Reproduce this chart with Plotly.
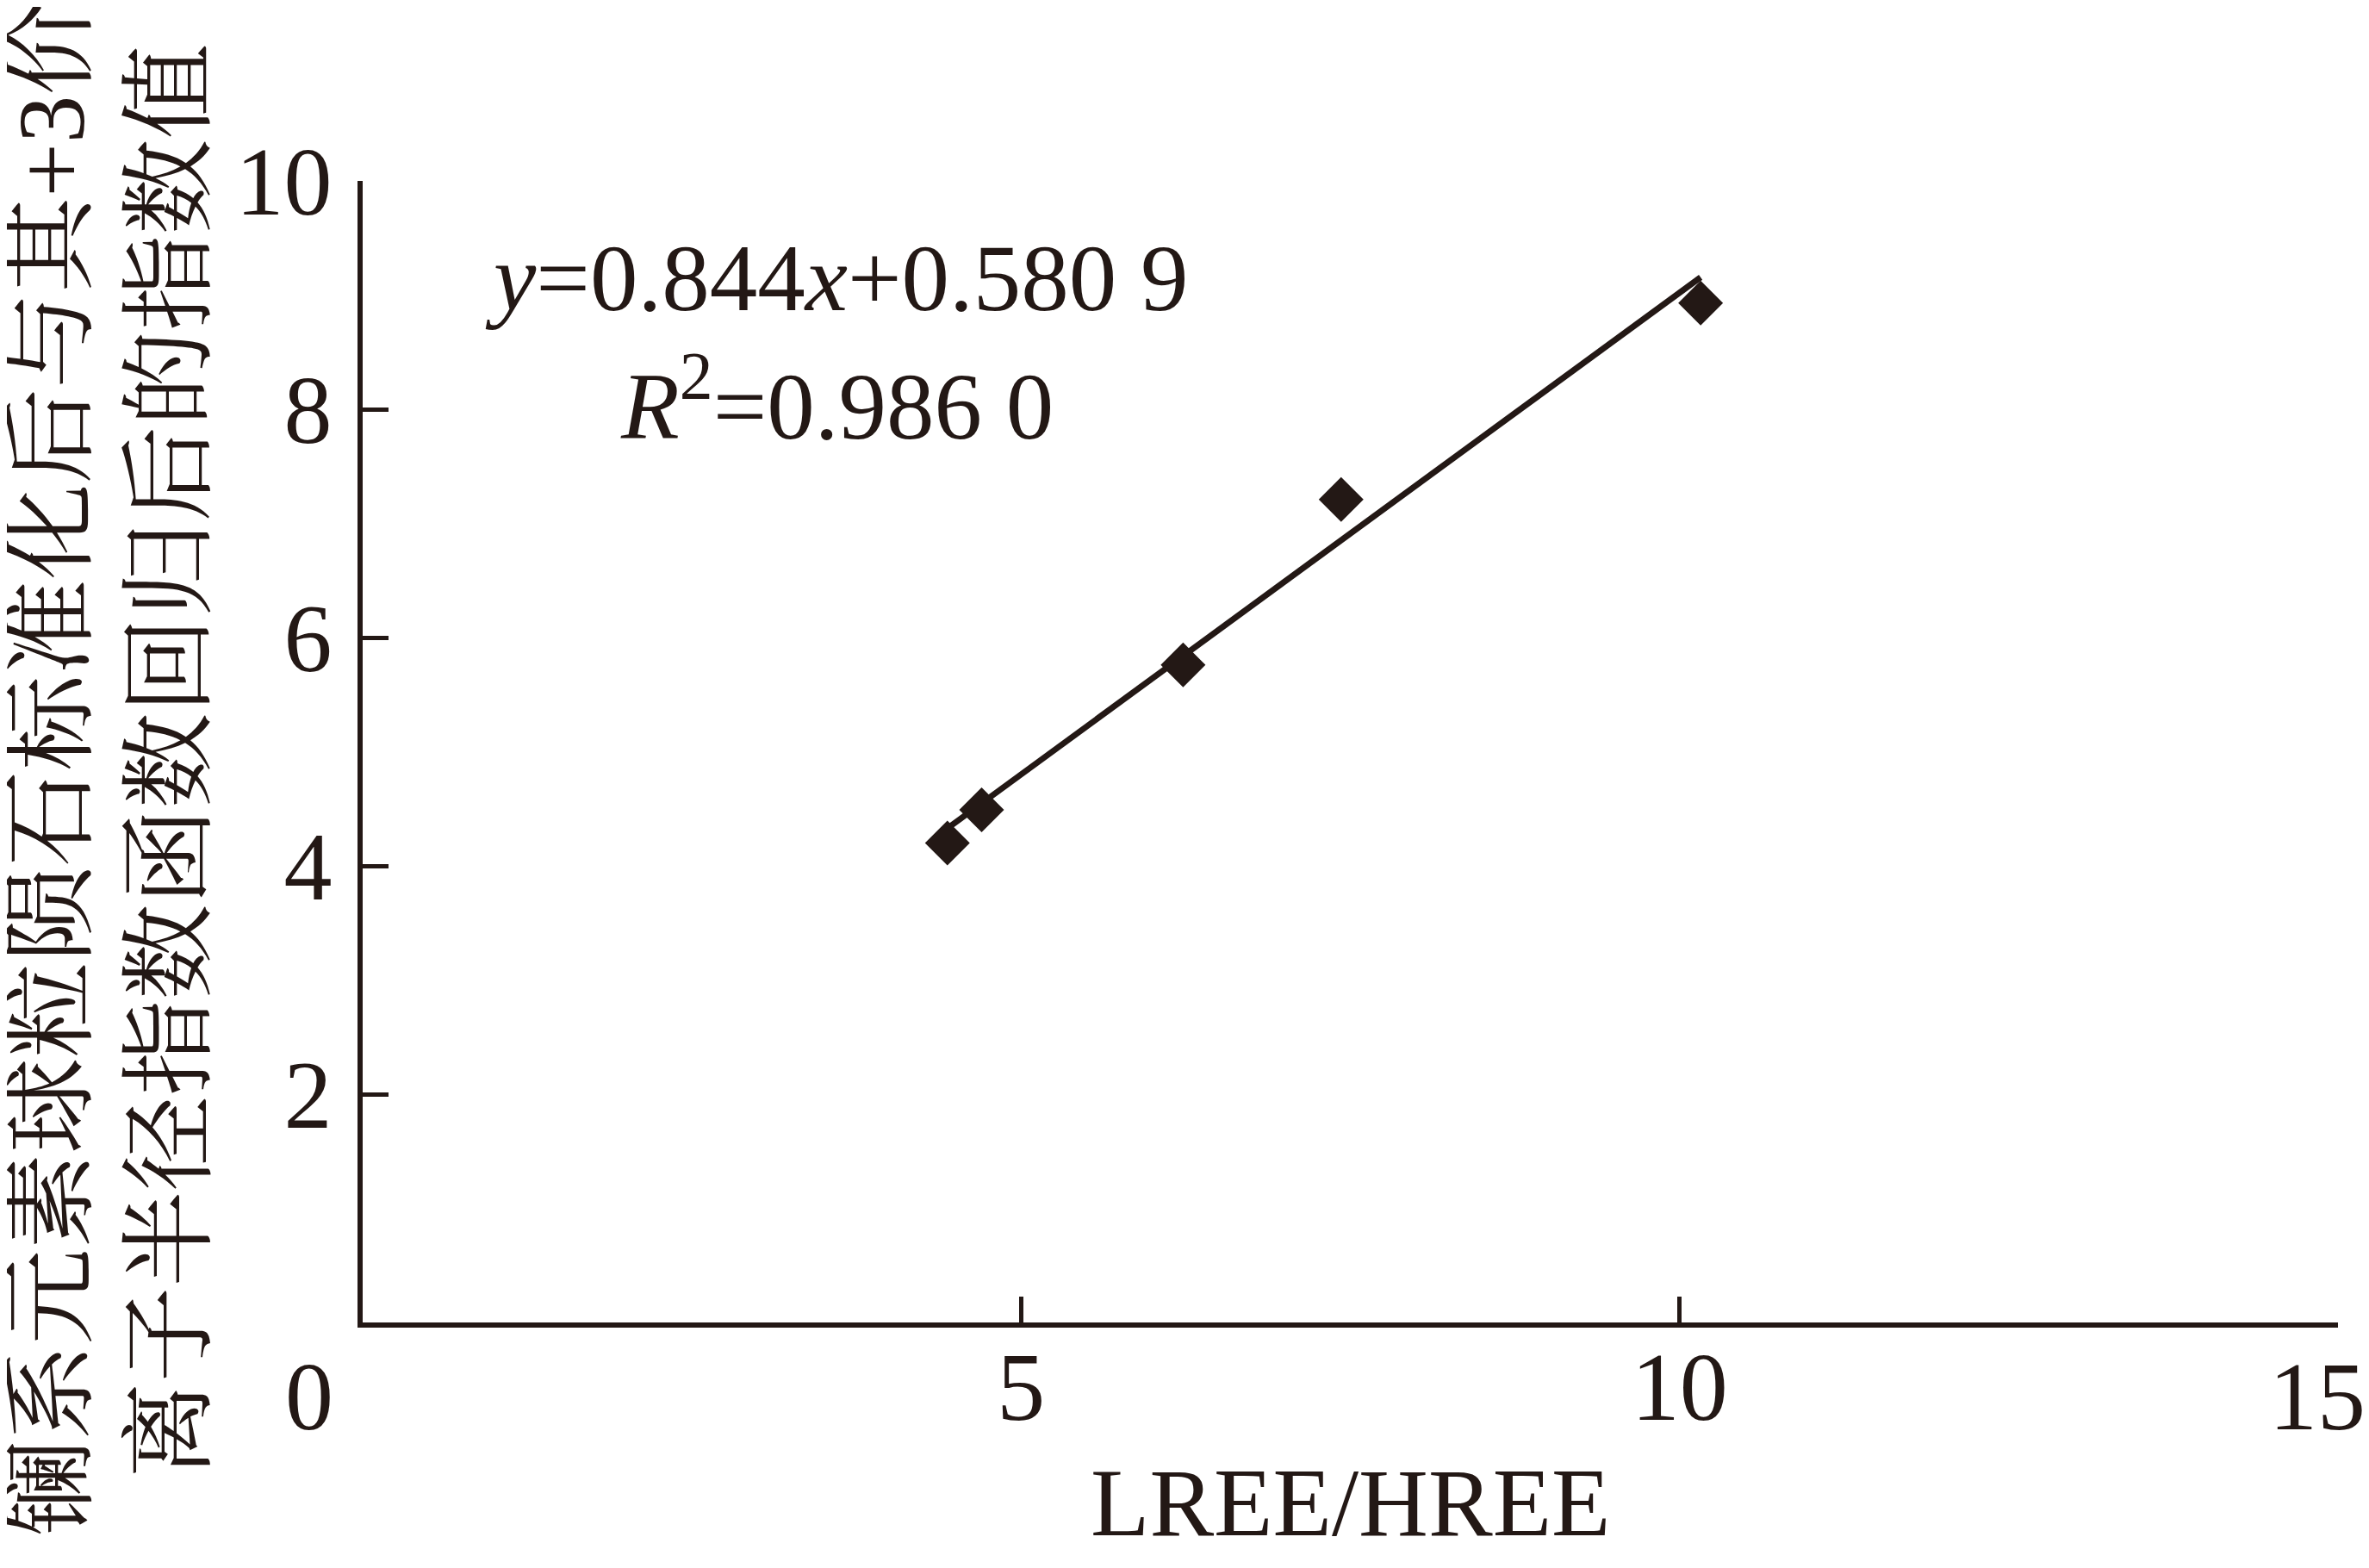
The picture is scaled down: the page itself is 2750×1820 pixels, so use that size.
import plotly.graph_objects as go

# ---- data ----
lree_hree = [4.44, 4.70, 6.23, 7.43, 10.16]
index_value = [4.20, 4.49, 5.76, 7.21, 8.93]
slope = 0.844
intercept = 0.5809
x_ticks = [5, 10, 15]
x_ticktext = ["5", "10", ""]
y_ticks = [2, 4, 6, 8, 10]

INK = "#231815"
LATIN = "Liberation Serif, Times New Roman, serif"
CJK = "Liberation Serif, Noto Serif CJK SC, Noto Sans CJK SC, serif"

fit_x = [min(lree_hree), max(lree_hree)]
fit_y = [slope * v + intercept for v in fit_x]

fig = go.Figure()
fig.add_trace(go.Scatter(x=fit_x, y=fit_y, mode="lines",
                         line=dict(color=INK, width=7), showlegend=False,
                         hoverinfo="skip"))
fig.add_trace(go.Scatter(x=lree_hree, y=index_value, mode="markers",
                         marker=dict(symbol="diamond", size=40, color=INK,
                                     line=dict(width=0)),
                         showlegend=False))

# page body adds an 8 px offset, so the figure is drawn 8 px smaller
fig.update_layout(
    width=2742, height=1812,
    margin=dict(l=413, r=36, t=202, b=285),
    paper_bgcolor="white", plot_bgcolor="white",
    font=dict(family=LATIN, size=112, color=INK),
    xaxis=dict(range=[0, 15], tickvals=x_ticks, ticktext=x_ticktext,
               ticks="inside", ticklen=30, automargin=False,
               tickwidth=5, tickcolor=INK, showline=True, linewidth=6,
               linecolor=INK, showgrid=False, zeroline=False,
               tickfont=dict(family=LATIN, size=112, color=INK),
               ticklabelstandoff=-27),
    yaxis=dict(range=[0, 10], tickvals=y_ticks, ticks="inside", ticklen=30,
               tickwidth=5, tickcolor=INK, showline=True, linewidth=6,
               linecolor=INK, showgrid=False, zeroline=False, automargin=False,
               tickfont=dict(family=LATIN, size=112, color=INK),
               ticklabelstandoff=7),
)

# shared origin label "0" and end label "15"
fig.add_annotation(x=0, y=0, xref="x", yref="y", text="0", showarrow=False,
                   xanchor="center", yanchor="middle", xshift=-62, yshift=-86,
                   font=dict(family=LATIN, size=112, color=INK))
fig.add_annotation(x=15, y=0, xref="x", yref="y", text="15", showarrow=False,
                   xanchor="center", yanchor="middle", xshift=-24, yshift=-86,
                   font=dict(family=LATIN, size=112, color=INK))

# x-axis title
fig.add_annotation(x=0.5, y=-0.158, xref="paper", yref="paper",
                   text="LREE/HREE", showarrow=False,
                   xanchor="center", yanchor="middle",
                   font=dict(family=LATIN, size=112, color=INK))

# regression equation
fig.add_annotation(x=3.60, y=9.15, xref="x", yref="y",
                   text="<i>y</i>=0.844<i>x</i>+0.580 9", showarrow=False,
                   xanchor="center", yanchor="middle",
                   font=dict(family=LATIN, size=111, color=INK))
fig.add_annotation(x=3.60, y=8.09, xref="x", yref="y",
                   text="<i>R</i><sup>2</sup>=0.986 0", showarrow=False,
                   xanchor="center", yanchor="middle",
                   font=dict(family=LATIN, size=111, color=INK))

# y-axis title (two rotated lines)
fig.add_annotation(x=-0.1580, y=0.486, xref="paper", yref="paper",
                   text="镧系元素球粒陨石标准化后与其+3价", textangle=-90,
                   showarrow=False, xanchor="center", yanchor="middle",
                   font=dict(family=CJK, size=111, color=INK))
fig.add_annotation(x=-0.0975, y=0.492, xref="paper", yref="paper",
                   text="离子半径指数函数回归后的指数值", textangle=-90,
                   showarrow=False, xanchor="center", yanchor="middle",
                   font=dict(family=CJK, size=111, color=INK))

fig.write_html("out.html")
